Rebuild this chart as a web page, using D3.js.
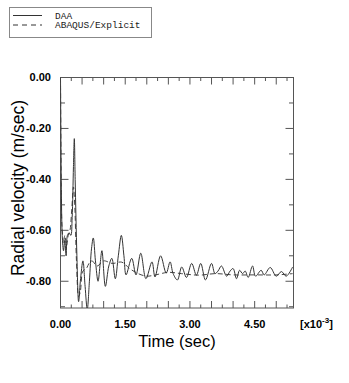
<!DOCTYPE html>
<html>
<head>
<meta charset="utf-8">
<script src="https://cdn.jsdelivr.net/npm/d3@7"></script>
<style>
  body { margin: 0; background: #fff; }
  svg { display: block; }
</style>
</head>
<body>
<div id="chart"></div>
<script>
var width = 349;
var height = 383;

// time in 1e-3 sec, radial velocity in m/sec
var daaTime = [0, 0.02, 0.04, 0.07, 0.10, 0.13, 0.16, 0.20, 0.24, 0.27, 0.30, 0.32, 0.34, 0.38, 0.42, 0.46,
    0.52, 0.57, 0.62, 0.67, 0.72, 0.76, 0.81, 0.87, 0.92, 0.96, 1.04, 1.12, 1.19, 1.27, 1.34, 1.41,
    1.47, 1.52, 1.65, 1.75, 1.86, 1.98, 2.12, 2.19, 2.32, 2.45, 2.54, 2.61, 2.71, 2.81, 2.92, 3.04,
    3.15, 3.25, 3.36, 3.50, 3.58, 3.65, 3.73, 3.85, 3.93, 4.00, 4.08, 4.15, 4.22, 4.28, 4.35, 4.45,
    4.52, 4.65, 4.72, 4.86, 5.00, 5.12, 5.23, 5.38];
var daaVel = [0, -0.45, -0.62, -0.68, -0.64, -0.70, -0.62, -0.61, -0.62, -0.55, -0.35, -0.24, -0.40, -0.70, -0.88, -0.80,
    -0.72, -0.82, -0.91, -0.80, -0.67, -0.63, -0.72, -0.80, -0.73, -0.68, -0.82, -0.74, -0.71, -0.79, -0.70, -0.62,
    -0.70, -0.775, -0.71, -0.775, -0.69, -0.79, -0.724, -0.783, -0.70, -0.768, -0.724, -0.77, -0.795, -0.744, -0.785, -0.73,
    -0.776, -0.73, -0.795, -0.73, -0.77, -0.76, -0.74, -0.78, -0.76, -0.75, -0.79, -0.757, -0.77, -0.76, -0.785, -0.74,
    -0.78, -0.757, -0.775, -0.746, -0.78, -0.762, -0.78, -0.744];

var abqTime = [0, 0.01, 0.02, 0.04, 0.07, 0.10, 0.14, 0.18, 0.22, 0.26, 0.30, 0.33, 0.37, 0.42, 0.46, 0.52,
    0.60, 0.66, 0.73, 0.85, 1.00, 1.20, 1.42, 1.60, 1.80, 2.00, 2.20, 2.50, 2.80, 3.20, 3.60, 4.00,
    4.50, 5.00, 5.38];
var abqVel = [0, -0.30, -0.50, -0.60, -0.65, -0.62, -0.66, -0.62, -0.60, -0.52, -0.43, -0.50, -0.72, -0.86, -0.84, -0.76,
    -0.75, -0.73, -0.72, -0.74, -0.72, -0.73, -0.725, -0.75, -0.77, -0.78, -0.775, -0.765, -0.77, -0.776, -0.77, -0.775,
    -0.775, -0.775, -0.77];

var yTicks = [0, -0.2, -0.4, -0.6, -0.8];
var xTicks = [0, 1.5, 3.0, 4.5];

var plotLeft = 60.5, plotRight = 293.5, plotTop = 77.5, plotBottom = 308;
var axisColor = "#555";

var svg = d3.select("#chart").append("svg")
    .attr("width", width)
    .attr("height", height);

var x = d3.scaleLinear().domain([0, 5.4]).range([plotLeft, plotRight]);
var y = d3.scaleLinear().domain([-0.905, 0]).range([plotBottom, plotTop]);

svg.append("clipPath").attr("id", "plotclip")
    .append("rect")
    .attr("x", plotLeft).attr("y", plotTop)
    .attr("width", plotRight - plotLeft).attr("height", plotBottom - plotTop);

var tickG = svg.append("g").attr("stroke", axisColor).attr("stroke-width", 1);

// ticks, all pointing inward
function drawTicks(values, len, orient) {
    values.forEach(function(v) {
        var l = tickG.append("line");
        if (orient === "bottom") {
            l.attr("x1", x(v)).attr("x2", x(v)).attr("y1", plotBottom).attr("y2", plotBottom - len);
        } else if (orient === "top") {
            l.attr("x1", x(v)).attr("x2", x(v)).attr("y1", plotTop).attr("y2", plotTop + len);
        } else if (orient === "left") {
            l.attr("x1", plotLeft).attr("x2", plotLeft + len).attr("y1", y(v)).attr("y2", y(v));
        } else {
            l.attr("x1", plotRight).attr("x2", plotRight - len).attr("y1", y(v)).attr("y2", y(v));
        }
    });
}

var xMajor = d3.range(0, 5.4, 0.5);
var xMinor = d3.range(0.25, 5.4, 0.5);
var yMajor = d3.range(0, -0.91, -0.2);
var yMinor = d3.range(-0.1, -0.91, -0.2);

drawTicks(xMajor, 7, "bottom");
drawTicks(xMinor, 3.5, "bottom");
drawTicks(xMajor, 7, "top");
drawTicks(xMinor, 3.5, "top");
drawTicks(yMajor, 8, "left");
drawTicks(yMinor, 4.5, "left");
drawTicks(yMajor, 8, "right");
drawTicks(yMinor, 4.5, "right");

svg.append("rect")
    .attr("x", plotLeft).attr("y", plotTop)
    .attr("width", plotRight - plotLeft).attr("height", plotBottom - plotTop)
    .attr("fill", "none")
    .attr("stroke", axisColor)
    .attr("stroke-width", 1);

var line = d3.line()
    .x(function(d) { return x(d[0]); })
    .y(function(d) { return y(d[1]); })
    .curve(d3.curveCatmullRom.alpha(0.5));

var daa = daaTime.map(function(t, i) { return [t, daaVel[i]]; });
var abq = abqTime.map(function(t, i) { return [t, abqVel[i]]; });

svg.append("path")
    .datum(abq)
    .attr("d", line)
    .attr("clip-path", "url(#plotclip)")
    .attr("fill", "none")
    .attr("stroke", "#444")
    .attr("stroke-width", 1)
    .attr("stroke-dasharray", "5,3");

svg.append("path")
    .datum(daa)
    .attr("d", line)
    .attr("clip-path", "url(#plotclip)")
    .attr("fill", "none")
    .attr("stroke", "#333")
    .attr("stroke-width", 1);

// tick labels
svg.selectAll(".ylab")
    .data(yTicks)
    .enter().append("text")
    .attr("class", "ylab")
    .attr("x", 51)
    .attr("y", function(d) { return y(d); })
    .attr("dy", "0.35em")
    .attr("text-anchor", "end")
    .style("font-family", "'Liberation Sans', Arial, sans-serif")
    .style("font-size", "11px")
    .style("font-weight", "bold")
    .text(function(d) { return d.toFixed(2); });

svg.selectAll(".xlab")
    .data(xTicks)
    .enter().append("text")
    .attr("class", "xlab")
    .attr("x", function(d) { return x(d); })
    .attr("y", 328)
    .attr("text-anchor", "middle")
    .style("font-family", "'Liberation Sans', Arial, sans-serif")
    .style("font-size", "11px")
    .style("font-weight", "bold")
    .text(function(d) { return d.toFixed(2); });

var mult = svg.append("text")
    .attr("x", 300)
    .attr("y", 328)
    .style("font-family", "'Liberation Sans', Arial, sans-serif")
    .style("font-size", "11px")
    .style("font-weight", "bold");
mult.append("tspan").text("[x10");
mult.append("tspan").attr("dy", -5).style("font-size", "8px").text("-3");
mult.append("tspan").attr("dy", 5).text("]");

svg.append("text")
    .attr("x", 177)
    .attr("y", 347)
    .attr("text-anchor", "middle")
    .style("font-family", "'Liberation Sans', Arial, sans-serif")
    .style("font-size", "16.5px")
    .text("Time (sec)");

svg.append("text")
    .attr("transform", "translate(24,188) rotate(-90)")
    .attr("text-anchor", "middle")
    .style("font-family", "'Liberation Sans', Arial, sans-serif")
    .style("font-size", "17.5px")
    .text("Radial velocity (m/sec)");

// legend
var legend = svg.append("g");
legend.append("rect")
    .attr("x", 9.5).attr("y", 7.5)
    .attr("width", 142).attr("height", 30)
    .attr("fill", "none")
    .attr("stroke", "#888")
    .attr("stroke-width", 1);

var legendData = [
    { label: "DAA", dash: null },
    { label: "ABAQUS/Explicit", dash: "5,4" }
];

legend.selectAll("line")
    .data(legendData)
    .enter().append("line")
    .attr("x1", 13).attr("x2", 42)
    .attr("y1", function(d, i) { return 15.5 + i * 9.5; })
    .attr("y2", function(d, i) { return 15.5 + i * 9.5; })
    .attr("stroke", "#333")
    .attr("stroke-width", 1)
    .attr("stroke-dasharray", function(d) { return d.dash; });

legend.selectAll("text")
    .data(legendData)
    .enter().append("text")
    .attr("x", 55)
    .attr("y", function(d, i) { return 15.5 + i * 9.5; })
    .attr("dy", "0.33em")
    .style("font-family", "'Liberation Mono', 'DejaVu Sans Mono', monospace")
    .style("font-size", "9.5px")
    .style("fill", "#222")
    .text(function(d) { return d.label; });
</script>
</body>
</html>
